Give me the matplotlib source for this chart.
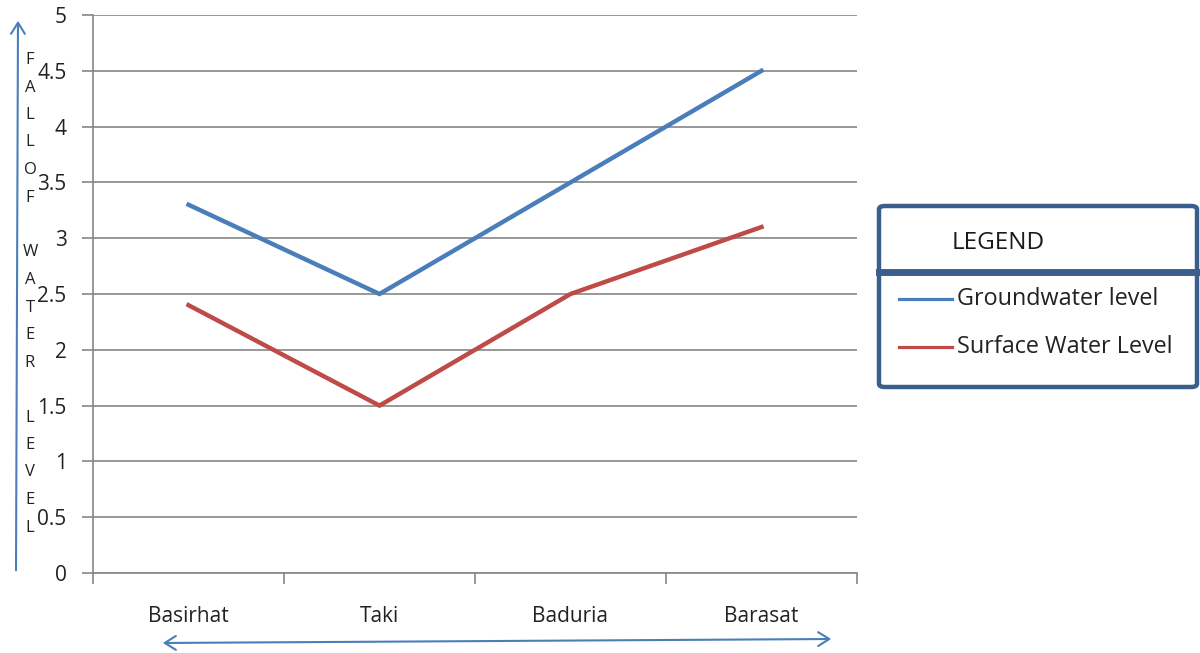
import matplotlib
matplotlib.use("Agg")
import matplotlib.pyplot as plt
from matplotlib.patches import FancyBboxPatch, FancyArrowPatch
from matplotlib.lines import Line2D

plt.rcParams["font.family"] = ["Open Sans", "DejaVu Sans"]

# data
towns = ["Basirhat", "Taki", "Baduria", "Barasat"]
groundwater = [3.3, 2.5, 3.5, 4.5]
surface = [2.4, 1.5, 2.5, 3.1]
y_ticks = [0, 0.5, 1, 1.5, 2, 2.5, 3, 3.5, 4, 4.5, 5]
y_tick_labels = ["0", "0.5", "1", "1.5", "2", "2.5", "3", "3.5", "4", "4.5", "5"]
series_names = ["Groundwater level", "Surface Water Level"]
axis_letters = "FALLOF WATER LEVEL"

W, H = 1200, 653
fig = plt.figure(figsize=(12, 6.53), dpi=100)
ax = fig.add_axes([93 / W, 1 - 573 / H, (857 - 93) / W, (573 - 15) / H])

blue = "#4A7EBB"
red = "#BE4B48"
grid = "#868686"
text_c = "#222222"

x = list(range(len(towns)))
l1, = ax.plot(x, groundwater, color=blue, lw=3.2, solid_joinstyle="miter", label=series_names[0])
l2, = ax.plot(x, surface, color=red, lw=3.2, solid_joinstyle="miter", label=series_names[1])

ax.set_xlim(-0.5, len(towns) - 0.5)
ax.set_ylim(0, 5)
ax.set_yticks(y_ticks)
ax.set_yticklabels(y_tick_labels)
ax.yaxis.grid(True, color=grid, lw=1.2)
ax.set_axisbelow(True)

# category labels sit between the boundary ticks
ax.set_xticks([i - 0.5 for i in range(len(towns) + 1)])
ax.set_xticklabels([])
ax.set_xticks(x, minor=True)
ax.set_xticklabels(towns, minor=True)
ax.tick_params(axis="x", which="minor", length=0, pad=24, labelsize=15, labelcolor=text_c)
ax.tick_params(axis="x", which="major", length=8, color=grid, width=1.2, direction="out")
ax.tick_params(axis="y", length=8, color=grid, width=1.2, pad=11, labelsize=15, labelcolor=text_c)

for s in ["top", "right"]:
    ax.spines[s].set_visible(False)
for s in ["left", "bottom"]:
    ax.spines[s].set_color(grid)
    ax.spines[s].set_linewidth(1.2)

# vertical axis description, one letter per line
y_pos = 60
for ch in axis_letters:
    if ch != " ":
        fig.text(30 / W, 1 - y_pos / H, ch, ha="center", va="center", fontsize=12, color=text_c)
    y_pos += 27.5

# arrows
fig.add_artist(FancyArrowPatch(
    (16 / W, 1 - 573 / H), (18 / W, 1 - 18 / H), transform=fig.transFigure,
    arrowstyle="->,head_length=8,head_width=5", color=blue, lw=1.5, mutation_scale=1))
fig.add_artist(FancyArrowPatch(
    (160 / W, 1 - 643 / H), (834 / W, 1 - 639 / H), transform=fig.transFigure,
    arrowstyle="<->,head_length=8,head_width=5", color=blue, lw=1.5, mutation_scale=1))

# legend box
box_c = "#3B5F8C"
fig.add_artist(FancyBboxPatch((879 / W, 1 - 387 / H), (1197 - 879) / W, (387 - 206) / H,
                              boxstyle="round,pad=0,rounding_size=0.005", transform=fig.transFigure,
                              fc="white", ec=box_c, lw=3.2, clip_on=False))
fig.add_artist(Line2D([879 / W, 1.0], [1 - 272 / H, 1 - 272 / H], transform=fig.transFigure,
                      color=box_c, lw=5))
fig.text(998 / W, 1 - 243 / H, "LEGEND", ha="center", va="center", fontsize=17.5, color="#1a1a1a")
for line, yy in [(l1, 299), (l2, 347)]:
    fig.add_artist(Line2D([899 / W, 952 / W], [1 - yy / H, 1 - yy / H], transform=fig.transFigure,
                          color=line.get_color(), lw=2.3))
    fig.text(957 / W, 1 - yy / H, line.get_label(), ha="left", va="center", fontsize=16.8, color=text_c)

fig.savefig("out.png", dpi=100)
